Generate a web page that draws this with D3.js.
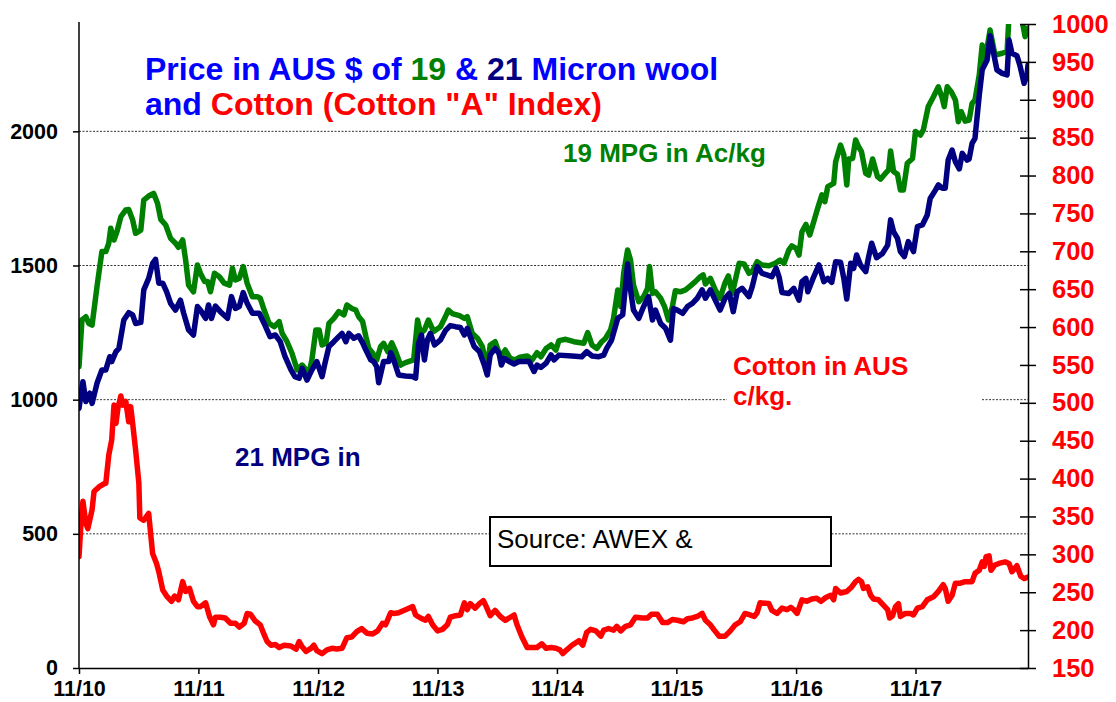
<!DOCTYPE html>
<html>
<head>
<meta charset="utf-8">
<script src="https://cdn.jsdelivr.net/npm/d3@7/dist/d3.min.js"></script>
<style>
  body { margin: 0; background: #fff; }
  svg { font-family: "Liberation Sans", Arial, sans-serif; }
</style>
</head>
<body>
<svg id="chart" width="1116" height="702"></svg>
<script>
// [months since 1 Nov 2010, Australian c/kg]
const micron19 = [
  [0,1123],[0.3,1297],[0.7,1309],[1.0,1284],[1.3,1278],[1.8,1421],[2.3,1552],[2.7,1552],[3.0,1583],[3.2,1639],
  [3.5,1595],[3.8,1626],[4.2,1682],[4.7,1707],[5.0,1709],[5.4,1670],[5.7,1620],[6.2,1632],[6.5,1744],[7.0,1759],
  [7.5,1769],[7.9,1732],[8.2,1672],[8.7,1651],[9.2,1601],[9.7,1583],[10.0,1568],[10.4,1595],[10.7,1520],[11.0,1427],
  [11.5,1402],[11.9,1502],[12.2,1471],[12.6,1440],[12.9,1440],[13.2,1402],[13.6,1471],[14.1,1458],[14.6,1434],[15.1,1427],
  [15.4,1490],[15.7,1446],[16.1,1452],[16.5,1496],[16.9,1434],[17.4,1384],[17.9,1384],[18.2,1378],[18.6,1334],[19.1,1284],
  [19.6,1272],[20.1,1291],[20.4,1247],[20.9,1216],[21.4,1173],[21.9,1111],[22.4,1129],[23.1,1098],[23.4,1148],[23.8,1260],
  [24.1,1260],[24.4,1204],[24.8,1210],[25.1,1284],[25.6,1303],[26.1,1328],[26.6,1316],[26.9,1353],[27.4,1340],[27.8,1334],
  [28.1,1309],[28.5,1291],[28.8,1235],[29.1,1191],[29.5,1173],[29.9,1148],[30.3,1198],[30.6,1210],[31.0,1179],[31.4,1212],
  [31.8,1179],[32.3,1129],[32.8,1138],[33.6,1148],[34.0,1297],[34.3,1247],[34.7,1260],[35.1,1297],[35.6,1254],[36.3,1272],
  [36.8,1309],[37.1,1334],[37.5,1321],[38.2,1313],[38.7,1303],[39.0,1309],[39.5,1247],[40.0,1229],[40.5,1198],[41.0,1117],
  [41.3,1204],[41.8,1216],[42.3,1160],[42.8,1185],[43.3,1154],[43.8,1148],[44.3,1158],[45.0,1163],[45.5,1148],[46.0,1175],
  [46.4,1160],[46.9,1191],[47.4,1204],[47.9,1185],[48.2,1220],[48.9,1225],[49.7,1216],[50.7,1210],[51.1,1250],[51.5,1204],
  [52.0,1191],[52.5,1216],[52.9,1229],[53.4,1260],[53.7,1303],[54.1,1409],[54.4,1347],[54.7,1471],[55.1,1558],[55.4,1520],
  [55.7,1427],[56.2,1365],[56.7,1384],[57.1,1415],[57.3,1496],[57.6,1396],[57.9,1402],[58.4,1378],[58.8,1347],[59.2,1297],
  [59.6,1347],[59.9,1406],[60.4,1402],[60.9,1409],[61.4,1424],[61.9,1440],[62.4,1458],[62.7,1465],[62.9,1431],[63.4,1452],
  [63.9,1409],[64.4,1378],[64.9,1436],[65.2,1461],[65.6,1396],[66.3,1508],[66.8,1506],[67.3,1471],[67.6,1477],[68.1,1514],
  [68.6,1502],[69.3,1499],[69.9,1508],[70.4,1520],[70.8,1508],[71.3,1558],[71.6,1573],[72.0,1564],[72.3,1539],[72.6,1626],
  [73.0,1653],[73.4,1614],[73.8,1663],[74.2,1713],[74.6,1763],[74.9,1738],[75.2,1794],[75.8,1806],[76.0,1887],[76.5,1949],
  [76.8,1912],[77.1,1800],[77.3,1897],[77.7,1899],[78.0,1968],[78.3,1943],[78.6,1924],[79.0,1843],[79.3,1837],[79.7,1897],
  [80.2,1831],[80.5,1822],[81.0,1843],[81.3,1856],[81.5,1927],[81.8,1850],[82.2,1840],[82.5,1781],[82.8,1781],[83.2,1881],
  [83.7,1899],[84.0,1999],[84.5,1986],[84.8,2005],[85.3,2092],[85.8,2129],[86.3,2166],[86.7,2123],[86.9,2092],[87.2,2166],
  [87.6,2148],[88.0,2117],[88.3,2036],[88.6,2073],[89.0,2038],[89.4,2042],[89.7,2104],[90.0,2117],[90.4,2210],[90.7,2322],
  [91.0,2266],[91.5,2378],[92.0,2284],[92.7,2291],[93.2,2297],[93.4,2430],[93.9,2440],[94.4,2430],[94.7,2420],[95.0,2353],
  [95.3,2384]
];

const micron21 = [
  [0,968],[0.4,1067],[0.7,993],[1.1,1024],[1.3,986],[1.8,1061],[2.3,1111],[2.7,1111],[3.1,1160],[3.3,1142],
  [3.7,1179],[4.0,1191],[4.5,1297],[5.0,1324],[5.4,1316],[5.7,1284],[6.2,1288],[6.5,1409],[7.0,1452],[7.4,1508],
  [7.7,1523],[8.0,1434],[8.4,1434],[8.8,1402],[9.2,1359],[9.7,1334],[10.2,1371],[10.5,1322],[11.0,1260],[11.5,1241],
  [11.9,1347],[12.2,1334],[12.7,1303],[13.0,1353],[13.3,1303],[13.7,1349],[14.2,1328],[14.9,1303],[15.3,1384],[15.7,1340],
  [16.1,1347],[16.5,1399],[16.9,1359],[17.4,1322],[18.1,1322],[18.6,1284],[19.2,1235],[19.7,1241],[20.2,1216],[20.7,1160],
  [21.3,1111],[21.7,1086],[22.1,1080],[22.4,1117],[22.9,1073],[23.4,1111],[23.9,1142],[24.4,1086],[24.7,1136],[25.1,1198],
  [25.6,1216],[26.1,1235],[26.4,1247],[26.8,1216],[27.1,1247],[27.6,1229],[28.1,1238],[28.5,1212],[28.8,1185],[29.3,1148],
  [29.6,1142],[29.9,1123],[30.1,1063],[30.6,1142],[31.1,1142],[31.3,1175],[31.6,1148],[32.1,1092],[32.8,1088],[33.5,1086],
  [33.8,1080],[34.1,1210],[34.4,1241],[34.7,1148],[35.0,1223],[35.3,1247],[35.7,1204],[36.3,1223],[36.8,1257],[37.3,1276],
  [37.8,1272],[38.3,1269],[38.7,1241],[39.0,1266],[39.3,1235],[39.7,1198],[40.2,1179],[40.7,1129],[41.0,1092],[41.3,1167],
  [41.8,1191],[42.2,1173],[42.4,1129],[42.7,1154],[43.2,1142],[43.7,1133],[44.2,1142],[45.2,1142],[45.7,1105],[46.0,1129],
  [46.4,1120],[46.9,1136],[47.4,1167],[47.7,1148],[48.2,1166],[49.5,1163],[50.5,1160],[51.0,1179],[51.5,1163],[52.2,1160],
  [52.7,1166],[53.0,1191],[53.5,1222],[54.1,1303],[54.6,1316],[55.1,1506],[55.4,1409],[55.7,1334],[56.2,1303],[56.7,1347],
  [57.2,1384],[57.6,1297],[57.9,1334],[58.4,1284],[58.9,1266],[59.4,1222],[59.7,1340],[60.1,1334],[60.6,1322],[61.1,1347],
  [61.6,1359],[62.1,1378],[62.6,1409],[62.9,1378],[63.4,1409],[63.9,1371],[64.4,1334],[64.9,1378],[65.3,1396],[65.7,1328],
  [66.1,1402],[66.6,1415],[67.3,1384],[67.6,1421],[68.1,1496],[68.6,1471],[69.1,1465],[69.6,1458],[70.0,1490],[70.3,1458],
  [70.6,1399],[71.3,1396],[71.8,1415],[72.3,1371],[72.6,1440],[73.0,1452],[73.2,1402],[73.8,1458],[74.3,1502],[74.8,1440],
  [75.2,1452],[75.6,1437],[76.0,1514],[76.5,1512],[76.8,1452],[77.1,1375],[77.5,1508],[77.8,1489],[78.1,1539],[78.5,1502],
  [79.0,1477],[79.3,1533],[79.6,1583],[80.1,1529],[80.7,1545],[81.2,1576],[81.5,1670],[81.8,1626],[82.2,1601],[82.5,1552],
  [82.9,1533],[83.3,1589],[83.8,1552],[84.2,1645],[84.7,1651],[85.2,1688],[85.5,1750],[86.0,1781],[86.3,1800],[86.7,1788],
  [87.0,1788],[87.3,1893],[87.7,1930],[88.0,1887],[88.4,1860],[88.7,1918],[89.2,1893],[89.4,1897],[89.7,1955],[90.0,1974],
  [90.4,2135],[90.7,2229],[91.2,2266],[91.5,2356],[91.9,2284],[92.2,2229],[92.7,2216],[93.2,2210],[93.4,2340],[93.7,2291],
  [94.2,2282],[94.5,2247],[94.9,2179],[95.2,2210],[95.3,2247]
];

// cotton, right axis
const cottonAUS = [
  [0,297],[0.2,341],[0.4,370],[0.7,341],[0.9,334],[1.3,359],[1.5,383],[2.0,389],[2.5,393],[2.7,394],
  [3.0,431],[3.3,451],[3.5,497],[3.7,473],[3.9,493],[4.2,509],[4.4,497],[4.7,502],[5.0,475],[5.2,495],
  [5.4,473],[5.7,438],[6.0,394],[6.1,348],[6.5,345],[7.0,354],[7.4,301],[7.8,288],[8.0,277],[8.4,253],
  [8.8,245],[9.3,238],[9.6,245],[10.0,240],[10.4,264],[10.7,251],[11.1,255],[11.5,238],[11.9,231],[12.2,231],
  [12.7,236],[13.1,218],[13.5,207],[13.7,217],[14.2,217],[14.7,216],[15.2,209],[15.7,209],[16.1,204],[16.6,209],
  [16.9,222],[17.2,221],[17.7,212],[18.2,207],[18.6,194],[18.9,185],[19.3,180],[19.7,181],[20.1,177],[20.6,180],
  [21.3,179],[21.8,175],[22.1,185],[22.4,178],[22.8,172],[23.3,176],[23.6,180],[23.9,173],[24.4,169],[24.9,174],
  [25.4,176],[25.9,175],[26.4,176],[26.9,190],[27.4,191],[27.9,198],[28.4,202],[28.9,196],[29.5,195],[30.0,199],
  [30.5,209],[30.8,207],[31.3,223],[31.6,222],[32.1,223],[32.8,227],[33.5,231],[33.8,220],[34.3,216],[34.8,213],
  [35.1,218],[35.5,207],[36.0,199],[36.5,201],[37.0,207],[37.3,217],[37.8,219],[38.3,220],[38.7,236],[39.0,227],
  [39.3,235],[39.8,229],[40.2,235],[40.6,239],[40.9,231],[41.3,219],[41.8,226],[42.3,218],[42.8,213],[43.2,216],
  [43.7,220],[44.0,207],[44.5,191],[45.0,177],[45.5,177],[46.0,177],[46.5,182],[46.9,176],[47.4,177],[47.9,176],
  [48.3,174],[48.6,169],[49.0,174],[49.5,180],[50.2,186],[50.6,180],[51.0,197],[51.4,201],[51.9,199],[52.4,192],
  [52.7,200],[53.2,202],[53.7,200],[54.0,205],[54.4,199],[54.9,205],[55.4,207],[55.9,217],[56.6,216],[57.1,216],
  [57.5,221],[58.1,221],[58.6,210],[59.1,210],[59.6,214],[60.1,213],[60.7,211],[61.1,215],[61.6,216],[62.1,218],
  [62.6,222],[62.9,213],[63.4,207],[63.8,200],[64.3,192],[64.9,192],[65.4,199],[65.9,207],[66.4,211],[66.9,222],
  [67.4,220],[67.8,218],[68.1,223],[68.4,236],[69.3,235],[69.6,226],[70.1,222],[70.6,229],[71.1,227],[71.5,230],
  [71.8,227],[72.1,222],[72.6,240],[73.1,238],[73.6,241],[74.1,242],[74.5,238],[75.0,243],[75.5,246],[75.8,240],
  [76.0,255],[76.5,249],[77.1,251],[77.6,257],[78.0,264],[78.3,267],[78.6,264],[78.8,255],[79.2,257],[79.5,246],
  [79.8,241],[80.3,240],[80.8,233],[81.2,227],[81.4,216],[81.7,219],[82.0,231],[82.3,235],[82.5,218],[83.0,222],
  [83.5,222],[83.8,220],[84.2,229],[84.7,231],[85.2,240],[85.8,244],[86.3,251],[86.8,260],[87.0,255],[87.3,238],
  [87.7,246],[88.0,262],[88.5,262],[89.0,264],[89.7,264],[90.0,275],[90.4,279],[90.7,290],[90.9,284],[91.1,297],
  [91.4,298],[91.6,279],[92.0,286],[92.4,288],[93.0,290],[93.4,288],[93.7,277],[94.2,285],[94.6,271],[94.9,268],
  [95.3,270]
];

const leftTicks = [0, 500, 1000, 1500, 2000];
const rightTicks = [150, 200, 250, 300, 350, 400, 450, 500, 550, 600, 650, 700, 750, 800, 850, 900, 950, 1000];
const xTickYears = [2010, 2011, 2012, 2013, 2014, 2015, 2016, 2017];

const svg = d3.select("#chart");
const xLeft = 79, xRight = 1028, yTop = 24, yBottom = 668;

const start = new Date(2010, 10, 1);
const toDate = (m) => d3.timeDay.offset(start, Math.round(m * 30.4375));

const x = d3.scaleTime().domain([start, toDate(95.3)]).range([xLeft, xRight]);
const yL = d3.scaleLinear().domain([0, 2400]).range([yBottom, yTop]);
const yR = d3.scaleLinear().domain([150, 1000]).range([yBottom, yTop]);

// dotted gridlines
svg
  .append("g")
  .selectAll("line")
  .data(leftTicks.filter((d) => d > 0))
  .join("line")
  .attr("x1", xLeft)
  .attr("x2", xRight)
  .attr("y1", (d) => yL(d))
  .attr("y2", (d) => yL(d))
  .attr("stroke", "#333")
  .attr("stroke-width", 1)
  .attr("stroke-dasharray", "2,1.5");

// white patch behind the cotton label
svg.append("rect").attr("x", 727).attr("y", 345).attr("width", 254).attr("height", 72).attr("fill", "#fff");

// source box
svg
  .append("rect")
  .attr("x", 490)
  .attr("y", 517)
  .attr("width", 341)
  .attr("height", 49)
  .attr("fill", "#fff")
  .attr("stroke", "#000")
  .attr("stroke-width", 2);
svg
  .append("text")
  .attr("x", 497)
  .attr("y", 548)
  .attr("font-size", 26)
  .attr("fill", "#000")
  .text("Source: AWEX &");

// lines
svg
  .append("clipPath")
  .attr("id", "plot")
  .append("rect")
  .attr("x", xLeft)
  .attr("y", yTop)
  .attr("width", xRight - xLeft)
  .attr("height", yBottom - yTop);

const lineL = d3.line().x((d) => x(toDate(d[0]))).y((d) => yL(d[1]));
const lineR = d3.line().x((d) => x(toDate(d[0]))).y((d) => yR(d[1]));

const lines = svg.append("g").attr("clip-path", "url(#plot)");
[
  [micron19, lineL, "#008000"],
  [micron21, lineL, "#000080"],
  [cottonAUS, lineR, "#ff0000"],
].forEach(([data, gen, color]) => {
  lines
    .append("path")
    .datum(data)
    .attr("d", gen)
    .attr("fill", "none")
    .attr("stroke", color)
    .attr("stroke-width", 5.5)
    .attr("stroke-linejoin", "round")
    .attr("stroke-linecap", "round");
});

// axes
const font = '"Liberation Sans", Arial, sans-serif';

const axL = svg
  .append("g")
  .attr("transform", `translate(${xLeft},0)`)
  .call(
    d3.axisLeft(yL).tickValues(leftTicks).tickFormat(d3.format("d"))
      .tickSize(6).tickSizeOuter(0).tickPadding(15)
  );
axL.attr("font-family", font).attr("font-size", 21.5).attr("font-weight", "bold");
axL.selectAll("line, path").attr("stroke", "#000").attr("stroke-width", 1.5);
axL.select(".domain").attr("d", `M0,${yTop - 2}V${yBottom}`);

const axR = svg
  .append("g")
  .attr("transform", `translate(${xRight},0)`)
  .call(
    d3.axisRight(yR).tickValues(rightTicks).tickFormat(d3.format("d"))
      .tickSize(8).tickSizeOuter(0).tickPadding(16)
  );
axR.attr("font-family", font).attr("font-size", 25.5).attr("font-weight", "bold");
axR.selectAll("text").attr("fill", "#ff0000");
axR.selectAll(".tick line").attr("x1", -8);
axR.selectAll("line, path").attr("stroke", "#000").attr("stroke-width", 1.5);

const axB = svg
  .append("g")
  .attr("transform", `translate(0,${yBottom})`)
  .call(
    d3
      .axisBottom(x)
      .tickValues(xTickYears.map((yr) => new Date(yr, 10, 1)))
      .tickFormat(d3.timeFormat("%m/%y"))
      .tickSize(6)
      .tickSizeOuter(0)
  );
axB.attr("font-family", font).attr("font-size", 21.5).attr("font-weight", "bold");
axB.selectAll("text").attr("y", 28).attr("dy", 0);
axB.selectAll("line, path").attr("stroke", "#000").attr("stroke-width", 1.5);

// title
const title = svg.append("text").attr("font-size", 32).attr("font-weight", "bold");
const t1 = title.append("tspan").attr("x", 145).attr("y", 80);
t1.append("tspan").attr("fill", "#0000ff").text("Price in AUS $ of ");
t1.append("tspan").attr("fill", "#008000").text("19 ");
t1.append("tspan").attr("fill", "#0000ff").text("& ");
t1.append("tspan").attr("fill", "#000080").text("21 ");
t1.append("tspan").attr("fill", "#0000ff").text("Micron wool");
const t2 = title.append("tspan").attr("x", 145).attr("y", 115);
t2.append("tspan").attr("fill", "#0000ff").text("and ");
t2.append("tspan").attr("fill", "#ff0000").text('Cotton (Cotton "A" Index)');

// series labels
const labels = [
  { text: "19 MPG in Ac/kg", x: 563, y: 162, color: "#008000" },
  { text: "21 MPG in", x: 235, y: 466, color: "#000080" },
  { text: "Cotton in AUS", x: 733, y: 375, color: "#ff0000" },
  { text: "c/kg.", x: 733, y: 405, color: "#ff0000" },
];
svg
  .append("g")
  .selectAll("text")
  .data(labels)
  .join("text")
  .attr("x", (d) => d.x)
  .attr("y", (d) => d.y)
  .attr("fill", (d) => d.color)
  .attr("font-size", 26)
  .attr("font-weight", "bold")
  .text((d) => d.text);
</script>
</body>
</html>
